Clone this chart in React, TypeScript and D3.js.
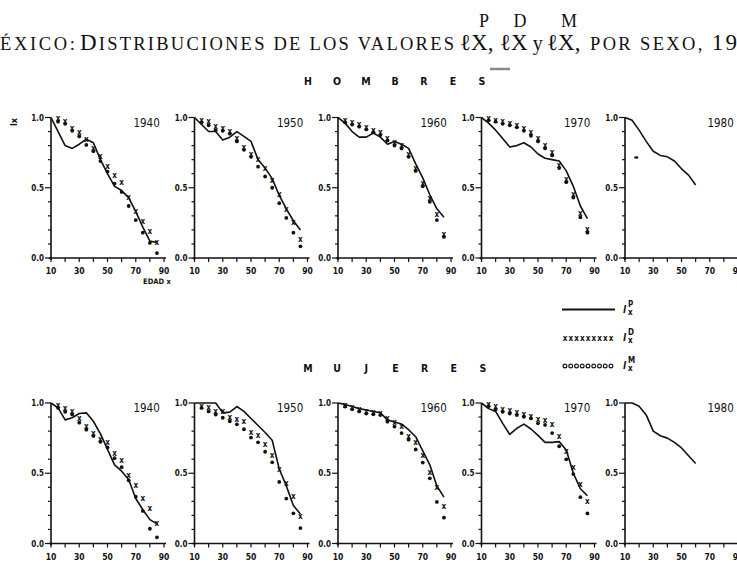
import React from "react";
import * as d3 from "d3";

// ages for the P line and for the D / M marks
const lineAges = [10, 15, 20, 25, 30, 35, 40, 45, 50, 55, 60, 65, 70, 75, 80, 85];
const markAges = [15, 20, 25, 30, 35, 40, 45, 50, 55, 60, 65, 70, 75, 80, 85];
const years = ["1940", "1950", "1960", "1970", "1980"];

// HOMBRES
const hP1940 = [1.0, 0.9, 0.8, 0.78, 0.81, 0.845, 0.82, 0.7, 0.6, 0.51, 0.48, 0.43, 0.33, 0.22, 0.12, 0.11];
const hD1940 = [0.99, 0.97, 0.92, 0.89, 0.84, 0.78, 0.72, 0.65, 0.585, 0.54, 0.43, 0.33, 0.26, 0.19, 0.11];
const hM1940 = [0.97, 0.955, 0.905, 0.865, 0.805, 0.76, 0.69, 0.615, 0.53, 0.47, 0.37, 0.27, 0.18, 0.107, 0.035];

const hP1950 = [1.0, 0.95, 0.9, 0.9, 0.84, 0.86, 0.9, 0.865, 0.83, 0.7, 0.64, 0.565, 0.445, 0.35, 0.265, 0.2];
const hD1950 = [0.98, 0.97, 0.935, 0.925, 0.9, 0.85, 0.79, 0.74, 0.7, 0.64, 0.555, 0.45, 0.345, 0.25, 0.13];
const hM1950 = [0.965, 0.945, 0.91, 0.905, 0.885, 0.83, 0.77, 0.72, 0.65, 0.58, 0.5, 0.39, 0.285, 0.18, 0.083];

const hP1960 = [1.0, 0.96, 0.9, 0.86, 0.86, 0.89, 0.86, 0.81, 0.83, 0.81, 0.78, 0.67, 0.57, 0.45, 0.35, 0.29];
const hD1960 = [0.98, 0.965, 0.95, 0.93, 0.91, 0.89, 0.85, 0.82, 0.8, 0.74, 0.64, 0.53, 0.42, 0.31, 0.17];
const hM1960 = [0.965, 0.95, 0.935, 0.915, 0.895, 0.875, 0.835, 0.8, 0.78, 0.72, 0.62, 0.51, 0.4, 0.27, 0.15];

const hP1970 = [1.0, 0.96, 0.91, 0.85, 0.79, 0.8, 0.82, 0.79, 0.74, 0.71, 0.7, 0.69, 0.62, 0.51, 0.37, 0.28];
const hD1970 = [0.99, 0.98, 0.97, 0.96, 0.945, 0.92, 0.89, 0.85, 0.8, 0.75, 0.66, 0.56, 0.45, 0.32, 0.2];
const hM1970 = [0.98, 0.97, 0.955, 0.945, 0.93, 0.905, 0.87, 0.83, 0.78, 0.73, 0.64, 0.54, 0.43, 0.29, 0.18];

const hP1980 = [1.0, 0.98, 0.91, 0.83, 0.76, 0.73, 0.72, 0.69, 0.635, 0.59, 0.52];
const hSpeck1980 = [{ age: 18, value: 0.715 }];

// MUJERES
const mP1940 = [1.0, 0.965, 0.88, 0.895, 0.925, 0.93, 0.87, 0.78, 0.67, 0.56, 0.515, 0.455, 0.32, 0.24, 0.17, 0.14];
const mD1940 = [0.98, 0.96, 0.937, 0.89, 0.836, 0.785, 0.742, 0.72, 0.644, 0.59, 0.485, 0.415, 0.32, 0.246, 0.145];
const mM1940 = [0.965, 0.937, 0.918, 0.86, 0.81, 0.766, 0.724, 0.684, 0.607, 0.543, 0.45, 0.333, 0.232, 0.105, 0.044];

const mP1950 = [1.0, 1.0, 1.0, 1.0, 0.93, 0.935, 0.975, 0.94, 0.89, 0.84, 0.79, 0.735, 0.53, 0.41, 0.27, 0.21];
const mD1950 = [0.977, 0.965, 0.94, 0.94, 0.9, 0.883, 0.87, 0.79, 0.766, 0.707, 0.625, 0.53, 0.426, 0.333, 0.19];
const mM1950 = [0.965, 0.94, 0.918, 0.895, 0.87, 0.848, 0.813, 0.754, 0.72, 0.653, 0.578, 0.438, 0.32, 0.215, 0.11];

const mP1960 = [1.0, 0.99, 0.975, 0.96, 0.95, 0.94, 0.93, 0.88, 0.865, 0.85, 0.81, 0.76, 0.66, 0.56, 0.41, 0.33];
const mD1960 = [0.985, 0.97, 0.955, 0.94, 0.93, 0.925, 0.89, 0.86, 0.832, 0.762, 0.716, 0.627, 0.505, 0.4, 0.26];
const mM1960 = [0.975, 0.955, 0.94, 0.925, 0.92, 0.914, 0.867, 0.832, 0.786, 0.739, 0.669, 0.576, 0.464, 0.296, 0.184];

const mP1970 = [1.0, 0.96, 0.94, 0.855, 0.776, 0.82, 0.85, 0.815, 0.77, 0.72, 0.72, 0.725, 0.665, 0.5, 0.39, 0.34];
const mD1970 = [0.99, 0.977, 0.953, 0.944, 0.93, 0.92, 0.907, 0.883, 0.874, 0.844, 0.762, 0.657, 0.54, 0.417, 0.3];
const mM1970 = [0.977, 0.953, 0.937, 0.925, 0.914, 0.902, 0.89, 0.855, 0.844, 0.786, 0.692, 0.599, 0.494, 0.33, 0.214];

const mP1980 = [1.0, 1.0, 0.977, 0.915, 0.8, 0.767, 0.75, 0.72, 0.68, 0.625, 0.57];

const yTicks = d3.range(0, 1.0001, 0.1);
const xTicks = d3.range(10, 91, 10);
const xLabels = [10, 30, 50, 70, 90];
const yLabels = [0, 0.5, 1.0];

type Speck = { age: number; value: number };
type PanelData = { year: string; p: number[]; d: number[]; m: number[]; specks?: Speck[] };

const hombres: PanelData[] = [
  { year: years[0], p: hP1940, d: hD1940, m: hM1940 },
  { year: years[1], p: hP1950, d: hD1950, m: hM1950 },
  { year: years[2], p: hP1960, d: hD1960, m: hM1960 },
  { year: years[3], p: hP1970, d: hD1970, m: hM1970 },
  { year: years[4], p: hP1980, d: [], m: [], specks: hSpeck1980 },
];
const mujeres: PanelData[] = [
  { year: years[0], p: mP1940, d: mD1940, m: mM1940 },
  { year: years[1], p: mP1950, d: mD1950, m: mM1950 },
  { year: years[2], p: mP1960, d: mD1960, m: mM1960 },
  { year: years[3], p: mP1970, d: mD1970, m: mM1970 },
  { year: years[4], p: mP1980, d: [], m: [] },
];

const W = 737;
const H = 567;
const panelW = 113;
const panelH = 140.5;
const plotFont = "'DejaVu Sans Condensed', 'DejaVu Sans', sans-serif";
const serif = "'Liberation Serif', 'DejaVu Serif', serif";

const x = d3.scaleLinear().domain([10, 90]).range([0, panelW]);
const y = d3.scaleLinear().domain([0, 1]).range([panelH, 0]);
const panelX = d3.scalePoint<string>().domain(years).range([51, 625]);

const line = d3
  .line<[number, number]>()
  .x((d) => x(d[0]))
  .y((d) => y(d[1]));

function Panel({ data, top, edad }: { data: PanelData; top: number; edad?: boolean }) {
  const pts = data.p.map((v, i) => [lineAges[i], v] as [number, number]);
  return (
    <g transform={`translate(${panelX(data.year)},${top})`}>
      {/* y axis */}
      <line x1={0} x2={0} y1={y(1)} y2={y(0) + 2} stroke="#111" strokeWidth={1.6} />
      {yTicks.map((t) => {
        const major = yLabels.some((l) => Math.abs(l - t) < 1e-6);
        return (
          <line key={t} x1={major ? -6 : -3} x2={0} y1={y(t)} y2={y(t)} stroke="#111" strokeWidth={1.2} />
        );
      })}
      {yLabels.map((t) => (
        <text key={t} x={-7} y={y(t) + 3} textAnchor="end" fontSize={8} fontWeight="bold" fontFamily={plotFont} fill="#111">
          {d3.format(".1f")(t)}
        </text>
      ))}
      {/* x axis */}
      <line x1={-2} x2={x(90) + 2} y1={y(0)} y2={y(0)} stroke="#111" strokeWidth={1.6} />
      {xTicks.map((t) => (
        <line key={t} x1={x(t)} x2={x(t)} y1={y(0)} y2={y(0) + 4} stroke="#111" strokeWidth={1.2} />
      ))}
      {xLabels.map((t) => (
        <text key={t} x={x(t)} y={y(0) + 16} textAnchor="middle" fontSize={8.5} fontWeight="bold" fontFamily={plotFont} fill="#111">
          {t}
        </text>
      ))}
      {edad && (
        <text x={x(85)} y={y(0) + 26} textAnchor="middle" fontSize={7.5} fontWeight="bold" fontFamily={plotFont} fill="#111">
          EDAD x
        </text>
      )}
      <text x={x(87)} y={y(1) + 9} textAnchor="end" fontSize={11.5} fontFamily={plotFont} fill="#111">
        {data.year}
      </text>
      <path d={line(pts) ?? ""} fill="none" stroke="#111" strokeWidth={1.6} strokeLinejoin="round" />
      {data.m.map((v, i) => (
        <circle key={"m" + i} cx={x(markAges[i])} cy={y(v)} r={1.9} fill="#111" />
      ))}
      {data.d.map((v, i) => (
        <text key={"d" + i} x={x(markAges[i])} y={y(v) + 2.5} textAnchor="middle" fontSize={8} fontWeight="bold" fontFamily={plotFont} fill="#111">
          x
        </text>
      ))}
      {(data.specks ?? []).map((s, i) => (
        <ellipse key={"s" + i} cx={x(s.age)} cy={y(s.value)} rx={2.2} ry={1.3} fill="#111" />
      ))}
    </g>
  );
}

function Spaced({ word, x0, x1, yy }: { word: string; x0: number; x1: number; yy: number }) {
  const chars = word.split("");
  const pos = d3.scalePoint<number>().domain(d3.range(chars.length)).range([x0, x1]);
  return (
    <g>
      {chars.map((c, i) => (
        <text key={i} x={pos(i)} y={yy} textAnchor="middle" fontSize={10.5} fontWeight="bold" fontFamily={plotFont} fill="#111">
          {c}
        </text>
      ))}
    </g>
  );
}

export default function App() {
  const topRow = 117.5;
  const botRow = 403;
  const big = 23;
  const small = 18.5;
  const legendX = d3.scaleLinear().domain([0, 8]).range([565, 611]);
  return (
    <svg width={W} height={H} style={{ position: "absolute", left: 0, top: 0, background: "#fff" }}>
      <rect width={W} height={H} fill="#fff" />
      {/* title */}
      <g fontFamily={serif} fill="#111">
        <text x={484} y={27} fontSize={18} textAnchor="middle">P</text>
        <text x={520} y={27} fontSize={18} textAnchor="middle">D</text>
        <text x={569} y={27} fontSize={18} textAnchor="middle">M</text>
        <text x={-1} y={50} fontSize={big} textAnchor="end">M</text>
        <text x={0} y={50} fontSize={small} textLength={75} lengthAdjust="spacing">ÉXICO:</text>
        <text x={80} y={50} textLength={374} lengthAdjust="spacing">
          <tspan fontSize={big}>D</tspan>
          <tspan fontSize={small}>ISTRIBUCIONES DE LOS VALORES</tspan>
        </text>
        <text x={460} y={50} fontSize={big}>ℓX,</text>
        <text x={500} y={50} fontSize={big}>ℓX<tspan fontSize={20}> y</tspan></text>
        <text x={547} y={50} fontSize={big}>ℓX,</text>
        <text x={590} y={50} textLength={147} lengthAdjust="spacing">
          <tspan fontSize={small}>POR SEXO, </tspan>
          <tspan fontSize={big}>19</tspan>
        </text>
        <text x={738} y={50} fontSize={big}>40-1980</text>
        <line x1={490} x2={510} y1={69} y2={69} stroke="#888" strokeWidth={2.5} />
      </g>

      <Spaced word="HOMBRES" x0={308} x1={482} yy={85} />
      <Spaced word="MUJERES" x0={308} x1={483} yy={372} />

      <text transform="translate(17,122) rotate(-90)" textAnchor="middle" fontSize={9} fontWeight="bold" fontFamily={plotFont} fill="#111">
        lx
      </text>

      {hombres.map((d, i) => (
        <Panel key={"h" + d.year} data={d} top={topRow} edad={i === 0} />
      ))}
      {mujeres.map((d) => (
        <Panel key={"m" + d.year} data={d} top={botRow} />
      ))}

      {/* legend */}
      <g fill="#111" fontFamily={plotFont}>
        <line x1={562} x2={615} y1={309.5} y2={309.5} stroke="#111" strokeWidth={2} />
        {d3.range(9).map((i) => (
          <text key={"lx" + i} x={legendX(i)} y={341} fontSize={8} fontWeight="bold" textAnchor="middle">x</text>
        ))}
        {d3.range(9).map((i) => (
          <circle key={"lo" + i} cx={legendX(i)} cy={366} r={1.9} fill="none" stroke="#111" strokeWidth={1.2} />
        ))}
        {[
          { yy: 313, s: "P" },
          { yy: 341, s: "D" },
          { yy: 369, s: "M" },
        ].map((l) => (
          <g key={l.s}>
            <text x={623} y={l.yy} fontSize={10} fontWeight="bold" fontStyle="italic">l</text>
            <text x={628} y={l.yy - 6} fontSize={8} fontWeight="bold">{l.s}</text>
            <text x={628} y={l.yy + 2} fontSize={8} fontWeight="bold">x</text>
          </g>
        ))}
      </g>
    </svg>
  );
}
